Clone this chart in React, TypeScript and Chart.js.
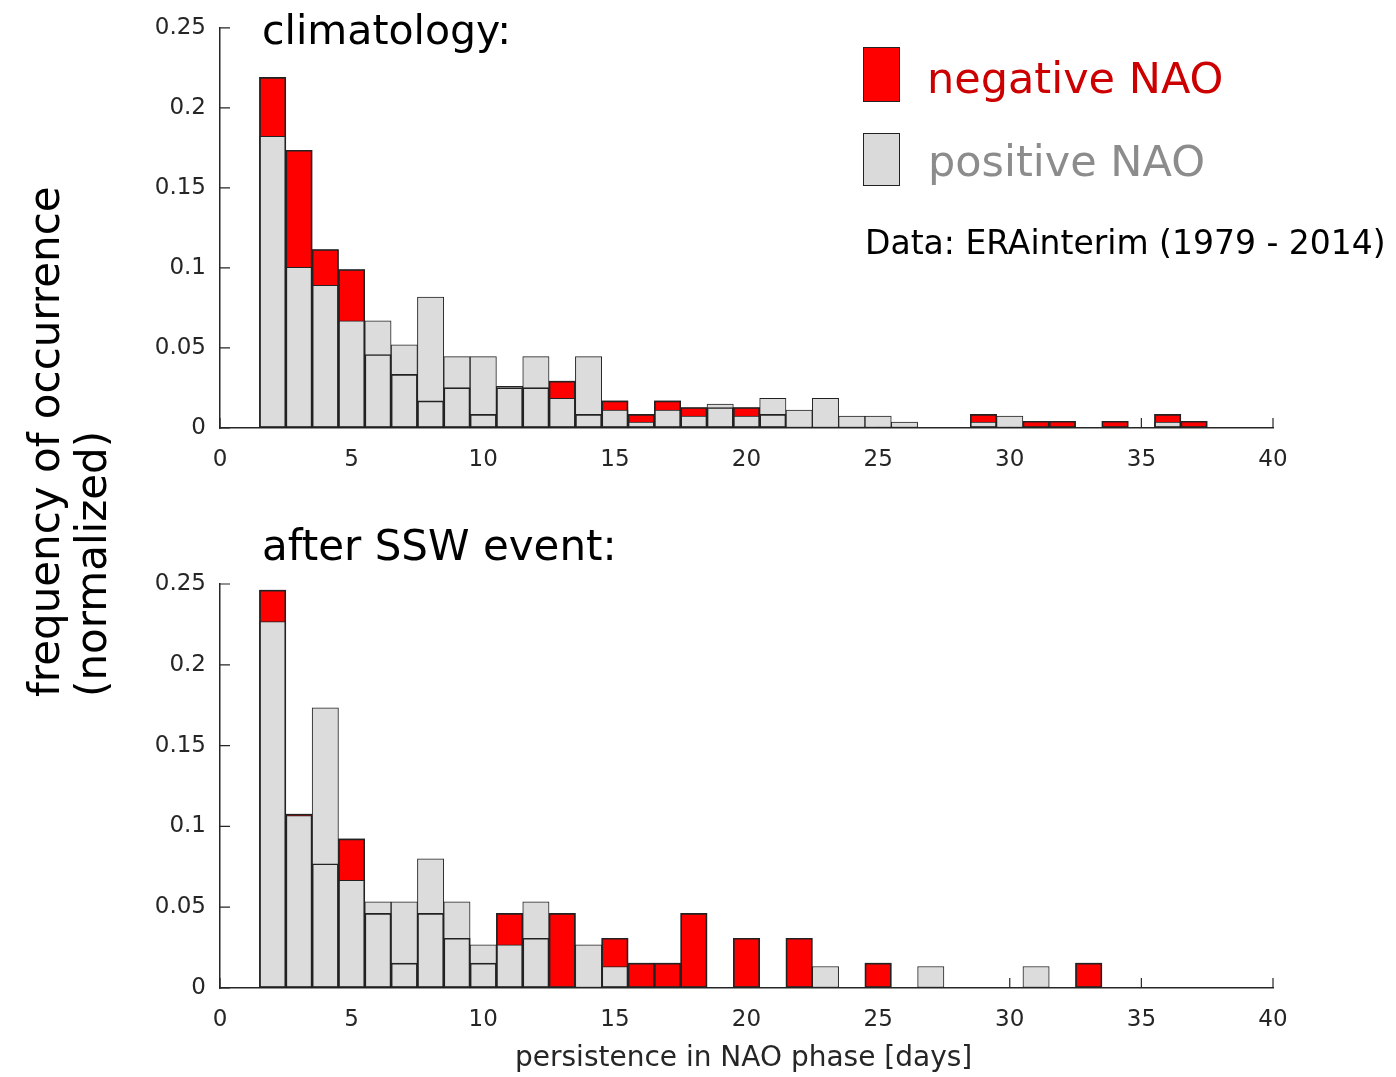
import React, { useEffect, useRef } from "react";
import { Chart, registerables } from "chart.js";

Chart.register(...registerables);

// ---------- data ----------
const BINS = [
  2, 3, 4, 5, 6, 7, 8, 9, 10, 11, 12, 13, 14, 15, 16, 17, 18, 19, 20,
  21, 22, 23, 24, 25, 26, 27, 28, 29, 30, 31, 32, 33, 34, 35, 36, 37,
];

// climatology (top panel)
const CLIM_NEG = [
  0.219, 0.1735, 0.1115, 0.099, 0.0459, 0.0335, 0.0169, 0.0252, 0.0085,
  0.0252, 0.0252, 0.0293, 0.0085, 0.0169, 0.0085, 0.0169, 0.0128, 0.0128,
  0.0128, 0.0085, 0, 0, 0, 0, 0, 0, 0, 0.0085, 0, 0.0042, 0.0042, 0,
  0.0042, 0, 0.0085, 0.0042,
];
const CLIM_POS = [
  0.1822, 0.1004, 0.0892, 0.0669, 0.0669, 0.052, 0.0818, 0.0446, 0.0446,
  0.026, 0.0446, 0.0186, 0.0446, 0.0112, 0.0037, 0.0112, 0.0074, 0.0149,
  0.0074, 0.0186, 0.0112, 0.0186, 0.0074, 0.0074, 0.0037, 0, 0, 0.0037,
  0.0074, 0, 0, 0, 0, 0, 0.0037, 0,
];

// after SSW event (bottom panel)
const SSW_NEG = [
  0.2462, 0.1077, 0.0769, 0.0923, 0.0462, 0.0154, 0.0462, 0.0308, 0.0154,
  0.0462, 0.0308, 0.0462, 0, 0.0308, 0.0154, 0.0154, 0.0462, 0, 0.0308, 0,
  0.0308, 0, 0, 0.0154, 0, 0, 0, 0, 0, 0, 0, 0.0154, 0, 0, 0, 0,
];
const SSW_POS = [
  0.2267, 0.1067, 0.1733, 0.0667, 0.0533, 0.0533, 0.08, 0.0533, 0.0267,
  0.0267, 0.0533, 0, 0.0267, 0.0133, 0, 0, 0, 0, 0, 0, 0, 0.0133, 0, 0, 0,
  0.0133, 0, 0, 0, 0.0133, 0, 0, 0, 0, 0, 0,
];

const X_TICKS = [0, 5, 10, 15, 20, 25, 30, 35, 40];
const Y_TICKS = [0, 0.05, 0.1, 0.15, 0.2, 0.25];

// ---------- styles ----------
const FONT = "'DejaVu Sans', sans-serif";
const AXIS_COLOR = "#262626";
const EDGE_COLOR = "#222222";
const RED = "#ff0000";
const GRAY = "#dcdcdc";

const inwardTicks = {
  id: "inwardTicks",
  beforeDatasetsDraw(chart: any) {
    const { ctx, chartArea, scales } = chart;
    ctx.save();
    ctx.strokeStyle = AXIS_COLOR;
    ctx.lineWidth = 1.2;
    ctx.beginPath();
    scales.x.ticks.forEach((t: any) => {
      const px = scales.x.getPixelForValue(t.value);
      ctx.moveTo(px, chartArea.bottom);
      ctx.lineTo(px, chartArea.bottom - 10);
    });
    scales.y.ticks.forEach((t: any) => {
      const py = scales.y.getPixelForValue(t.value);
      ctx.moveTo(chartArea.left, py);
      ctx.lineTo(chartArea.left + 10, py);
    });
    ctx.stroke();
    ctx.restore();
  },
};

function buildConfig(neg: number[], pos: number[], padTop: number, xAxisH: number) {
  const pts = (arr: number[]) =>
    BINS.map((b, i) => ({ x: b, y: arr[i] > 0 ? arr[i] : null }));
  const barCommon = {
    grouped: false,
    barPercentage: 1,
    categoryPercentage: 1,
    borderWidth: 1,
    borderSkipped: false,
    borderColor: EDGE_COLOR,
  };
  return {
    type: "bar",
    data: {
      datasets: [
        // outline of negative bars, drawn on top
        { ...barCommon, label: "negative outline", data: pts(neg), backgroundColor: "rgba(0,0,0,0)" },
        { ...barCommon, label: "positive NAO", data: pts(pos), backgroundColor: GRAY },
        { ...barCommon, label: "negative NAO", data: pts(neg), backgroundColor: RED },
      ],
    },
    options: {
      animation: false,
      responsive: false,
      maintainAspectRatio: false,
      layout: { padding: { left: 0, top: padTop, right: 123, bottom: 0 } },
      plugins: { legend: { display: false }, tooltip: { enabled: false } },
      scales: {
        x: {
          type: "linear",
          min: 0,
          max: 40,
          offset: false,
          afterBuildTicks: (s: any) => {
            s.ticks = X_TICKS.map((v) => ({ value: v }));
          },
          afterFit: (s: any) => {
            s.height = xAxisH;
          },
          grid: { display: true, offset: false, drawOnChartArea: false, drawTicks: false },
          border: { display: true, color: AXIS_COLOR, width: 1.5 },
          ticks: {
            padding: 18,
            color: AXIS_COLOR,
            font: { family: FONT, size: 23 },
            maxRotation: 0,
            autoSkip: false,
            callback: (v: any) => String(v),
          },
        },
        y: {
          type: "linear",
          min: 0,
          max: 0.25,
          afterBuildTicks: (s: any) => {
            s.ticks = Y_TICKS.map((v) => ({ value: v }));
          },
          afterFit: (s: any) => {
            s.width = 220;
          },
          grid: { display: true, drawOnChartArea: false, drawTicks: false },
          border: { display: true, color: AXIS_COLOR, width: 1.5 },
          ticks: {
            padding: 14,
            color: AXIS_COLOR,
            font: { family: FONT, size: 23 },
            autoSkip: false,
            callback: (v: any) => String(v),
          },
        },
      },
    },
    plugins: [inwardTicks],
  };
}

function Panel(props: { neg: number[]; pos: number[]; top: number; height: number; padTop: number; xAxisH: number }) {
  const ref = useRef<HTMLCanvasElement | null>(null);
  useEffect(() => {
    if (!ref.current) return;
    const chart = new Chart(ref.current, buildConfig(props.neg, props.pos, props.padTop, props.xAxisH) as any);
    return () => chart.destroy();
  }, []);
  return (
    <canvas
      ref={ref}
      width={1396}
      height={props.height}
      style={{ position: "absolute", left: 0, top: props.top, width: 1396, height: props.height }}
    />
  );
}

function Txt(props: { x: number; base: number; size: number; color: string; children: any }) {
  const { x, base, size, color, children } = props;
  return (
    <div
      style={{
        position: "absolute",
        left: x,
        top: base - 0.846 * size,
        fontSize: size,
        lineHeight: size + "px",
        fontFamily: FONT,
        color,
        whiteSpace: "nowrap",
      }}
    >
      {children}
    </div>
  );
}

export default function App() {
  return (
    <div
      style={{
        position: "fixed",
        left: 0,
        top: 0,
        width: 1396,
        height: 1077,
        background: "#ffffff",
        overflow: "hidden",
      }}
    >
      <Panel neg={CLIM_NEG} pos={CLIM_POS} top={0} height={500} padTop={25} xAxisH={72} />
      <Panel neg={SSW_NEG} pos={SSW_POS} top={500} height={577} padTop={84} xAxisH={89} />

      <Txt x={262} base={45} size={41} color="#000000">climatology:</Txt>
      <Txt x={262} base={561} size={42} color="#000000">after SSW event:</Txt>

      {/* legend */}
      <div
        style={{
          position: "absolute",
          left: 863,
          top: 47,
          width: 37,
          height: 55,
          background: RED,
          border: "1.5px solid #222",
          boxSizing: "border-box",
        }}
      />
      <div
        style={{
          position: "absolute",
          left: 863,
          top: 133,
          width: 37,
          height: 53,
          background: "#dadada",
          border: "1.5px solid #222",
          boxSizing: "border-box",
        }}
      />
      <Txt x={927} base={93} size={43} color="#cc0000">negative NAO</Txt>
      <Txt x={928} base={176} size={43} color="#8c8c8c">positive NAO</Txt>
      <Txt x={865} base={254} size={33} color="#000000">Data: ERAinterim (1979 - 2014)</Txt>

      {/* y label (rotated, lines start at the bottom) */}
      <div
        style={{
          position: "absolute",
          left: 21,
          top: 697,
          transform: "rotate(-90deg)",
          transformOrigin: "0 0",
          fontFamily: FONT,
          fontSize: 42,
          lineHeight: "47px",
          textAlign: "left",
          whiteSpace: "nowrap",
          color: "#000000",
        }}
      >
        frequency of occurrence
        <br />
        (normalized)
      </div>

      {/* x label */}
      <Txt x={515} base={1067} size={28} color={AXIS_COLOR}>persistence in NAO phase [days]</Txt>
    </div>
  );
}
